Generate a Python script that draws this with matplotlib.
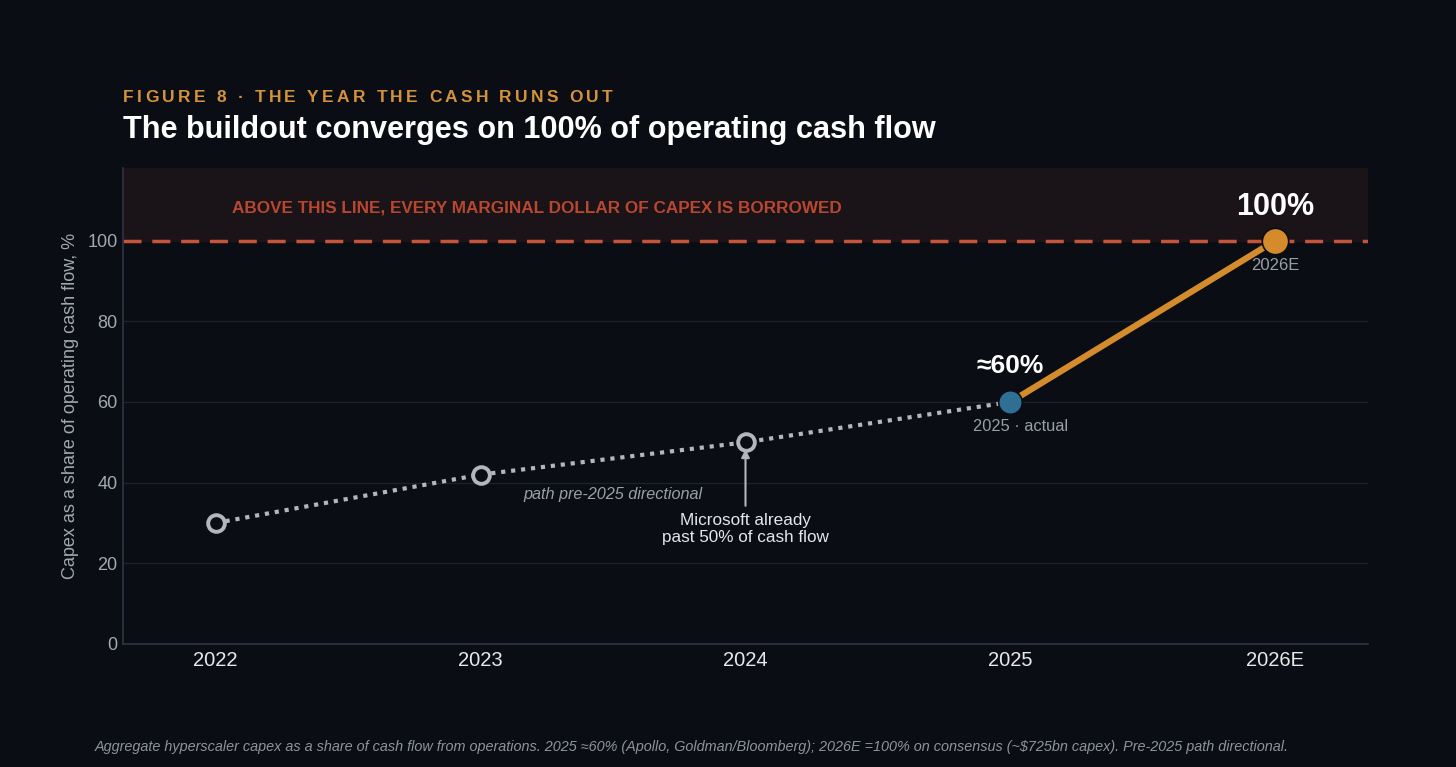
import matplotlib
matplotlib.use('Agg')
import matplotlib.pyplot as plt

years = ["2022", "2023", "2024", "2025", "2026E"]
share = [30, 42, 50, 60, 100]
yticks = [0, 20, 40, 60, 80, 100]

bg = "#0a0d14"
grey = "#b3b6bd"
orange = "#d48b2c"
blue = "#2f6f94"
red = "#c4553a"

plt.rcParams['font.family'] = ['Liberation Sans', 'DejaVu Sans']

fig = plt.figure(figsize=(14.56, 7.67), dpi=100, facecolor=bg)
ax = fig.add_axes([123 / 1456, 1 - 644 / 767, (1368 - 123) / 1456, (644 - 168) / 767])
ax.set_facecolor(bg)

x = list(range(len(years)))
ax.set_xlim(-0.35, 4.35)
ax.set_ylim(0, 118)

# zone above 100%
ax.axhspan(100, 118, color="#1a1318", zorder=0)
ax.axhline(100, color=red, lw=2.5, dashes=(5.2, 3.1), zorder=2)

for v in yticks[1:-1]:
    ax.axhline(v, color="#1b212d", lw=1, zorder=1)

# pre-2025 dotted path
ax.plot(x[:4], share[:4], color=grey, lw=3, linestyle=(0, (1, 1.4)), zorder=3)
ax.plot(x[3:], share[3:], color=orange, lw=4.5, solid_capstyle='round', zorder=3)
ax.plot(x[:3], share[:3], 'o', ms=12, mfc=bg, mec=grey, mew=2.8, zorder=4)
ax.plot(x[3], share[3], 'o', ms=17, mfc=blue, mec=bg, mew=1.2, zorder=4)
ax.plot(x[4], share[4], 'o', ms=19, mfc=orange, mec=bg, mew=1.2, zorder=4)

ax.set_xticks(x)
ax.set_xticklabels(years, fontsize=14.5, color="#e8e8ea")
ax.set_yticks(yticks)
ax.set_yticklabels([str(v) for v in yticks], fontsize=13, color="#a4a8b0")
ax.tick_params(length=0)
ax.tick_params(axis='y', pad=4)
ax.tick_params(axis='x', pad=5)
ax.set_ylabel("Capex as a share of operating cash flow, %", fontsize=13,
              color="#a4a8b0", labelpad=6)

for s in ["top", "right"]:
    ax.spines[s].set_visible(False)
for s in ["left", "bottom"]:
    ax.spines[s].set_color("#2e3446")
    ax.spines[s].set_linewidth(1.2)

ax.text(0.06, 108.2, "ABOVE THIS LINE, EVERY MARGINAL DOLLAR OF CAPEX IS BORROWED",
        color="#b8472f", fontsize=12.35, fontweight='bold', va='center', ha='left')
ax.text(4, 108.3, "100%", color="white", fontsize=22, fontweight='bold', ha='center', va='center')
ax.text(4, 93.8, "2026E", color="#9a9ea6", fontsize=12, ha='center', va='center')
ax.text(3, 68.8, "≈60%", color="white", fontsize=19, fontweight='bold', ha='center', va='center')
ax.text(3.04, 54.0, "2025 · actual", color="#9a9ea6", fontsize=11.75, ha='center', va='center')
ax.text(1.5, 37.0, "path pre-2025 directional", color="#9a9ea6", fontsize=11.7,
        style='italic', ha='center', va='center')
ax.annotate("Microsoft already\npast 50% of cash flow", xy=(2, 48.3), xytext=(2, 28.6),
            ha='center', va='center', color="#e6e6e8", fontsize=12.3, linespacing=1.15,
            arrowprops=dict(arrowstyle='-|>', color=grey, lw=1.5, shrinkA=3, shrinkB=0,
                            mutation_scale=12))

# letter-spaced kicker, one glyph at a time
kicker = "FIGURE 8 · THE YEAR THE CASH RUNS OUT"
renderer = fig.canvas.get_renderer()
px = 123
for ch in kicker:
    t = fig.text(px / 1456, 1 - 97.5 / 767, ch, color="#d4923a", fontsize=12.5,
                 fontweight='bold', va='center', ha='left')
    w = t.get_window_extent(renderer).width
    if ch == " ":
        w = 4.5
    px += w + 3.35

fig.text(123 / 1456, 1 - 130 / 767, "The buildout converges on 100% of operating cash flow",
         color="white", fontsize=22.1, fontweight='bold', va='center', ha='left')
fig.text(95 / 1456, 1 - 747 / 767,
         "Aggregate hyperscaler capex as a share of cash flow from operations. 2025 ≈60% "
         "(Apollo, Goldman/Bloomberg); 2026E =100% on consensus (~$725bn capex). Pre-2025 path directional.",
         color="#8f939c", fontsize=10.4, style='italic', va='center', ha='left')

fig.savefig("out.png", dpi=100, facecolor=bg)
